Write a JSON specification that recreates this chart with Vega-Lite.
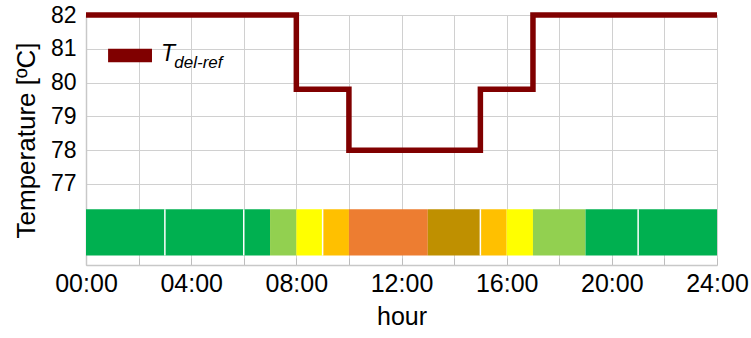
{
  "$schema": "https://vega.github.io/schema/vega-lite/v6.json",
  "width": 631,
  "height": 250,
  "autosize": "none",
  "padding": {"left": 86, "top": 15, "right": 34, "bottom": 73},
  "background": "white",
  "config": {
    "view": {"stroke": null},
    "font": "Liberation Sans"
  },
  "datasets": {
    "setpoint": [
      {"hour": 0, "temp": 82},
      {"hour": 8, "temp": 79.8},
      {"hour": 10, "temp": 78},
      {"hour": 15, "temp": 79.8},
      {"hour": 17, "temp": 82},
      {"hour": 24, "temp": 82}
    ],
    "periods": [
      {"start": 0, "end": 7, "level": "A"},
      {"start": 7, "end": 8, "level": "B"},
      {"start": 8, "end": 9, "level": "C"},
      {"start": 9, "end": 10, "level": "D"},
      {"start": 10, "end": 13, "level": "E"},
      {"start": 13, "end": 15, "level": "F"},
      {"start": 15, "end": 16, "level": "D"},
      {"start": 16, "end": 17, "level": "C"},
      {"start": 17, "end": 19, "level": "B"},
      {"start": 19, "end": 24, "level": "A"}
    ],
    "separators": [
      {"hour": 3}, {"hour": 6}, {"hour": 9}, {"hour": 15}, {"hour": 21}
    ],
    "legend": [{"name": "T", "sub": "del-ref"}]
  },
  "layer": [
    {
      "data": {"name": "periods"},
      "mark": {"type": "rect"},
      "encoding": {
        "x": {
          "field": "start",
          "type": "quantitative",
          "scale": {"domain": [0, 24], "nice": false, "zero": false},
          "axis": {
            "values": [0,1,2,3,4,5,6,7,8,9,10,11,12,13,14,15,16,17,18,19,20,21,22,23,24],
            "labelExpr": "datum.value % 4 === 0 ? ((datum.value < 10 ? '0' : '') + datum.value + ':00') : ''",
            "labelFontSize": 25,
            "labelColor": "#000000",
            "labelPadding": 13,
            "labelFlush": false,
            "labelOverlap": false,
            "tickSize": -7,
            "tickColor": "#bdbdbd",
            "tickWidth": 1,
            "domainColor": "#c8c8c8",
            "domainWidth": 1.5,
            "grid": true,
            "gridColor": "#d0d0d0",
            "gridWidth": 1,
            "gridOpacity": {"condition": {"test": "datum.value % 2 === 0", "value": 1}, "value": 0},
            "title": "hour",
            "titleFontSize": 25,
            "titleFontWeight": "normal",
            "titleColor": "#000000",
            "titlePadding": 8
          }
        },
        "x2": {"field": "end"},
        "y": {"datum": 74.88, "type": "quantitative",
          "scale": {"domain": [74.6, 82], "nice": false, "zero": false},
          "axis": {
            "values": [77, 78, 79, 80, 81, 82],
            "labelFontSize": 23,
            "labelColor": "#000000",
            "labelPadding": 10,
            "ticks": false,
            "domainColor": "#c8c8c8",
            "domainWidth": 1.5,
            "grid": true,
            "gridColor": "#d0d0d0",
            "gridWidth": 1,
            "title": "Temperature [ºC]",
            "titleFontSize": 26,
            "titleFontWeight": "normal",
            "titleColor": "#000000",
            "titlePadding": 11
          }
        },
        "y2": {"datum": 76.25},
        "color": {
          "field": "level",
          "type": "nominal",
          "scale": {"domain": ["A", "B", "C", "D", "E", "F"],
                    "range": ["#00b050", "#92d050", "#ffff00", "#ffc000", "#ed7d31", "#bf9000"]},
          "legend": null
        }
      }
    },
    {
      "data": {"name": "separators"},
      "mark": {"type": "rule", "color": "white", "strokeWidth": 1.5},
      "encoding": {
        "x": {"field": "hour", "type": "quantitative"},
        "y": {"datum": 74.88, "type": "quantitative"},
        "y2": {"datum": 76.25}
      }
    },
    {
      "data": {"name": "setpoint"},
      "mark": {"type": "line", "interpolate": "step-after", "color": "#800000", "strokeWidth": 5.5, "strokeJoin": "miter", "clip": false},
      "encoding": {
        "x": {"field": "hour", "type": "quantitative"},
        "y": {"field": "temp", "type": "quantitative"}
      }
    },
    {
      "data": {"name": "legend"},
      "mark": {"type": "rect", "color": "#800000"},
      "encoding": {
        "x": {"datum": 0.84, "type": "quantitative"},
        "x2": {"datum": 2.51},
        "y": {"datum": 80.6, "type": "quantitative"},
        "y2": {"datum": 81.0}
      }
    },
    {
      "data": {"name": "legend"},
      "mark": {"type": "text", "align": "left", "baseline": "alphabetic", "fontStyle": "italic", "fontSize": 23, "color": "#000000"},
      "encoding": {
        "x": {"datum": 2.85, "type": "quantitative"},
        "y": {"datum": 80.63, "type": "quantitative"},
        "text": {"field": "name"}
      }
    },
    {
      "data": {"name": "legend"},
      "mark": {"type": "text", "align": "left", "baseline": "alphabetic", "fontStyle": "italic", "fontSize": 17, "color": "#000000"},
      "encoding": {
        "x": {"datum": 3.36, "type": "quantitative"},
        "y": {"datum": 80.43, "type": "quantitative"},
        "text": {"field": "sub"}
      }
    }
  ]
}
